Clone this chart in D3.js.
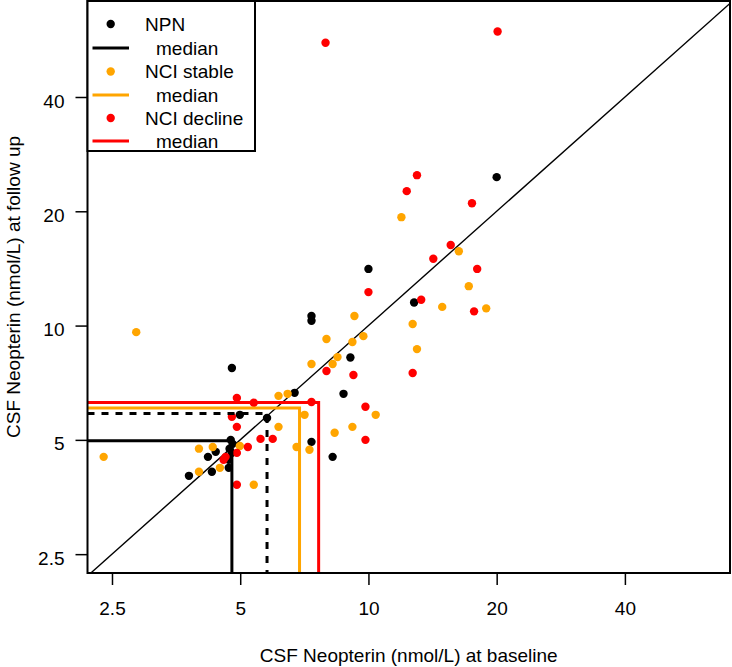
<!DOCTYPE html>
<html>
<head>
<meta charset="utf-8">
<script src="https://cdn.jsdelivr.net/npm/d3@7"></script>
<style>
  html, body { margin: 0; padding: 0; background: #fff; }
  svg text { font-family: "Liberation Sans", Arial, sans-serif; }
</style>
</head>
<body>
<svg id="chart" width="732" height="667"></svg>
<script>
// ---------------- data ----------------
const groupNames = ["NPN", "NCI stable", "NCI decline"];
const groupColors = ["#000000", "#FFA500", "#FF0000"];

// NPN (baseline, follow up) nmol/L
const npnBaseline = [20.0, 12.8, 10.0, 7.35, 7.35, 9.07, 8.74, 7.35, 8.24, 6.71, 4.78, 5.78, 4.99, 4.75, 4.80, 4.72, 4.78, 4.20, 4.38, 4.70, 4.70, 4.29, 3.79];
const npnFollowUp = [24.6, 11.5, 14.1, 10.6, 10.3, 8.24, 6.61, 4.94, 4.51, 6.65, 7.73, 5.71, 5.82, 5.00, 4.88, 4.74, 4.62, 4.51, 4.65, 4.43, 4.22, 4.12, 4.02];

// NCI stable
const stableBaseline = [2.85, 2.39, 11.95, 16.3, 17.2, 18.9, 14.9, 12.7, 13.0, 9.27, 7.97, 9.17, 9.73, 8.46, 8.24, 7.35, 7.08, 10.4, 9.17, 8.33, 7.27, 6.78, 6.15, 6.46, 6.15, 4.99, 4.00, 4.31, 4.48, 4.00, 5.38];
const stableFollowUp = [9.61, 4.51, 19.3, 15.7, 12.7, 11.1, 11.2, 10.1, 8.67, 10.6, 9.22, 9.05, 9.38, 8.26, 7.92, 7.92, 5.82, 5.82, 5.41, 5.22, 4.71, 4.79, 6.53, 6.61, 5.41, 4.82, 4.74, 4.79, 4.22, 4.12, 3.81];

// NCI decline
const declineBaseline = [7.93, 20.1, 13.0, 12.3, 17.5, 15.6, 14.2, 18.0, 13.3, 17.7, 10.0, 7.97, 9.22, 12.7, 7.35, 9.84, 9.84, 4.91, 5.38, 4.78, 4.91, 5.58, 5.96, 5.21, 4.62, 4.57, 4.91, 4.91];
const declineFollowUp = [55.6, 59.5, 24.9, 22.6, 21.0, 16.3, 15.0, 14.1, 11.7, 10.9, 12.25, 7.59, 7.41, 7.50, 6.29, 6.11, 5.00, 6.45, 6.26, 5.75, 5.41, 5.03, 5.03, 4.79, 4.51, 4.43, 4.62, 3.81];

// medians per group (baseline, follow up)
const medianBaseline = [4.78, 6.89, 7.64];
const medianFollowUp = [4.97, 6.07, 6.27];
// dashed reference median
const refMedian = [5.78, 5.87];

const tickValues = [2.5, 5, 10, 20, 40];
const tickLabels = ["2.5", "5", "10", "20", "40"];
const xTitle = "CSF Neopterin (nmol/L) at baseline";
const yTitle = "CSF Neopterin (nmol/L) at follow up";

// ---------------- layout ----------------
const svg = d3.select("#chart");
const L = 87.5, R = 730, T = 1, B = 573;
const FS = 19;

const x = d3.scaleLog().domain([2.19, 70.6]).range([L, R]);
const y = d3.scaleLog().domain([2.23, 71.6]).range([B, T]);

svg.append("defs").append("clipPath").attr("id", "plotclip")
  .append("rect").attr("x", L).attr("y", T).attr("width", R - L).attr("height", B - T);

const plot = svg.append("g").attr("clip-path", "url(#plotclip)");

// identity line
const lo = Math.max(x.domain()[0], y.domain()[0]);
const hi = Math.max(x.domain()[1], y.domain()[1]);
plot.append("line")
  .attr("x1", x(lo)).attr("y1", y(lo))
  .attr("x2", x(hi)).attr("y2", y(hi))
  .attr("stroke", "#000").attr("stroke-width", 1.4);

// points
const series = [
  [npnBaseline, npnFollowUp],
  [stableBaseline, stableFollowUp],
  [declineBaseline, declineFollowUp]
];
series.forEach((s, gi) => {
  const pts = s[0].map((v, i) => [v, s[1][i]]);
  plot.append("g").selectAll("circle").data(pts).join("circle")
    .attr("cx", d => x(d[0])).attr("cy", d => y(d[1]))
    .attr("r", 4.2).attr("fill", groupColors[gi]);
});

// dashed reference median
plot.append("path")
  .attr("d", `M${L},${y(refMedian[1])}H${x(refMedian[0])}V${B}`)
  .attr("fill", "none").attr("stroke", "#000").attr("stroke-width", 3)
  .attr("stroke-dasharray", "7,7");

// median lines
medianBaseline.forEach((mx, gi) => {
  plot.append("path")
    .attr("d", `M${L},${y(medianFollowUp[gi])}H${x(mx)}V${B}`)
    .attr("fill", "none").attr("stroke", groupColors[gi]).attr("stroke-width", 3);
});

// axes
const xAxis = d3.axisBottom(x).tickValues(tickValues)
  .tickFormat((d, i) => tickLabels[i]).tickSize(12).tickPadding(17);
const gx = svg.append("g").attr("transform", `translate(0,${B})`).call(xAxis);
gx.select(".domain").remove();
gx.selectAll("line").attr("stroke", "#000").attr("stroke-width", 1.5);
gx.selectAll("text").attr("font-size", FS).attr("fill", "#000")
  .attr("font-family", "Liberation Sans, Arial, sans-serif");

const yAxis = d3.axisLeft(y).tickValues(tickValues)
  .tickFormat((d, i) => tickLabels[i]).tickSize(12).tickPadding(11);
const gy = svg.append("g").attr("transform", `translate(${L},0)`).call(yAxis);
gy.select(".domain").remove();
gy.selectAll("line").attr("stroke", "#000").attr("stroke-width", 1.5);
gy.selectAll("text").attr("font-size", FS).attr("fill", "#000").attr("dy", "0.53em")
  .attr("font-family", "Liberation Sans, Arial, sans-serif");

// box
svg.append("rect").attr("x", L).attr("y", T).attr("width", R - L).attr("height", B - T)
  .attr("fill", "none").attr("stroke", "#000").attr("stroke-width", 2);

// titles
svg.append("text").attr("x", (L + R) / 2).attr("y", 662)
  .attr("text-anchor", "middle").attr("font-size", FS).attr("fill", "#000").text(xTitle);
svg.append("text").attr("transform", `translate(20,${(T + B) / 2}) rotate(-90)`)
  .attr("text-anchor", "middle").attr("font-size", FS).attr("fill", "#000").text(yTitle);

// legend
const lg = svg.append("g");
lg.append("rect").attr("x", L).attr("y", T).attr("width", 255 - L).attr("height", 151 - T)
  .attr("fill", "#fff").attr("stroke", "#000").attr("stroke-width", 2);
const rowY = [24, 48, 71.5, 95, 118, 141];
groupNames.forEach((name, gi) => {
  const yp = rowY[gi * 2], yl = rowY[gi * 2 + 1];
  lg.append("circle").attr("cx", 110.7).attr("cy", yp).attr("r", 4.2).attr("fill", groupColors[gi]);
  lg.append("text").attr("x", 145).attr("y", yp).attr("dy", "0.36em")
    .attr("font-size", FS).attr("fill", "#000").text(name);
  lg.append("line").attr("x1", 92.5).attr("x2", 129).attr("y1", yl).attr("y2", yl)
    .attr("stroke", groupColors[gi]).attr("stroke-width", 3);
  lg.append("text").attr("x", 156).attr("y", yl).attr("dy", "0.36em")
    .attr("font-size", FS).attr("fill", "#000").text("median");
});
</script>
</body>
</html>
